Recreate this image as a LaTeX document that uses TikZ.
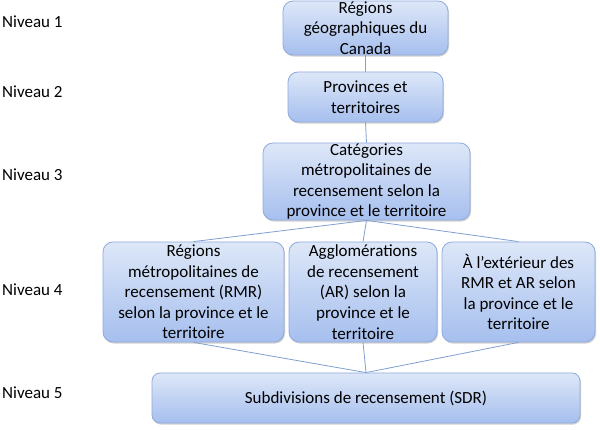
\documentclass[tikz,border=0pt]{standalone}
\usepackage{fontspec}
\setmainfont{Carlito}
\usetikzlibrary{shadows,backgrounds}
\definecolor{boxtop}{HTML}{DDE7F8}
\definecolor{boxbot}{HTML}{A6BFEE}
\definecolor{boxline}{HTML}{8FAADC}
\definecolor{conn}{HTML}{7F9FD3}
\tikzset{
  lvbox/.style={draw=boxline, line width=0.8pt, rounded corners=10pt,
    top color=boxtop, bottom color=boxbot, inner sep=0pt, align=center,
    font=\fontsize{17}{20.6}\selectfont,
    drop shadow={shadow xshift=1pt, shadow yshift=-1.6pt, fill=black!40, opacity=0.45}},
  lvlabel/.style={anchor=west, inner sep=0pt, font=\fontsize{17}{20.6}\selectfont},
  connector/.style={draw=conn, line width=0.8pt}
}
\begin{document}
\begin{tikzpicture}[x=1pt,y=-1pt]
\useasboundingbox (0,0) rectangle (600,430);
\node[lvlabel] (n1) at (2,22) {Niveau 1};
\node[lvlabel] (n2) at (2,92) {Niveau 2};
\node[lvlabel] (n3) at (2,175) {Niveau 3};
\node[lvlabel] (n4) at (2,290) {Niveau 4};
\node[lvlabel] (n5) at (2,393) {Niveau 5};

\node[lvbox, minimum width=165pt, minimum height=54pt] (b1) at (365.5,28) {Régions\\géographiques du\\Canada};
\node[lvbox, minimum width=155pt, minimum height=50pt] (b2) at (365.5,97) {Provinces et\\territoires};
\node[lvbox, minimum width=207pt, minimum height=77pt] (b3) at (366.5,181.5) {Catégories\\métropolitaines de\\recensement selon la\\province et le territoire};
\node[lvbox, minimum width=181pt, minimum height=100pt] (a) at (193.5,292) {Régions\\métropolitaines de\\recensement (RMR)\\selon la province et le\\territoire};
\node[lvbox, minimum width=148pt, minimum height=100pt] (b) at (363,292) {Agglomérations\\de recensement\\(AR) selon la\\province et le\\territoire};
\node[lvbox, minimum width=153pt, minimum height=100pt] (c) at (518.5,292) {À l’extérieur des\\RMR et AR selon\\la province et le\\territoire};
\node[lvbox, rounded corners=8pt, minimum width=428pt, minimum height=50pt] (b5) at (366,398) {Subdivisions de recensement (SDR)};

\begin{scope}[on background layer]
\draw[connector] (b1.south) -- (b2.north);
\draw[connector] (b2.south) -- (b3.north);
\draw[connector] (b3.south) -- (a.north);
\draw[connector] (b3.south) -- (b.north);
\draw[connector] (b3.south) -- (c.north);
\draw[connector] (a.south) -- (b5.north);
\draw[connector] (b.south) -- (b5.north);
\draw[connector] (c.south) -- (b5.north);
\end{scope}
\end{tikzpicture}
\end{document}
